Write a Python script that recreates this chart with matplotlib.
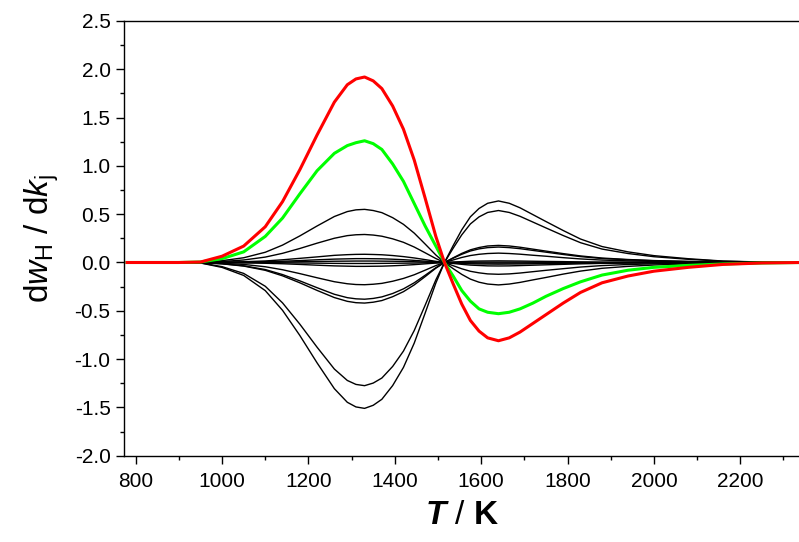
import matplotlib
matplotlib.use("Agg")
import matplotlib.pyplot as plt
from matplotlib.ticker import MultipleLocator

plt.rcParams["font.family"] = ["Liberation Sans", "DejaVu Sans"]
plt.rcParams["mathtext.fontset"] = "custom"
plt.rcParams["mathtext.rm"] = "Liberation Sans"
plt.rcParams["mathtext.it"] = "Liberation Sans:italic"
plt.rcParams["mathtext.bf"] = "Liberation Sans:bold"
plt.rcParams["mathtext.bfit"] = "Liberation Sans:italic:bold"

# temperature grid (K)
T = [780, 900, 950, 1000, 1050, 1100, 1140, 1180, 1220, 1260, 1290, 1310, 1330,
     1350, 1370, 1395, 1420, 1445, 1470, 1495, 1515, 1535, 1555, 1575, 1595,
     1615, 1640, 1665, 1690, 1720, 1750, 1790, 1830, 1880, 1940, 2000, 2080,
     2160, 2250, 2340]

# highlighted sensitivities
red = [0, 0, 0.005, 0.065, 0.17, 0.37, 0.63, 0.96, 1.32, 1.66, 1.84, 1.90, 1.92,
       1.88, 1.80, 1.62, 1.38, 1.06, 0.67, 0.27, 0, -0.22, -0.43, -0.60, -0.71,
       -0.78, -0.81, -0.78, -0.72, -0.63, -0.54, -0.42, -0.31, -0.21, -0.14, -0.09, -0.05,
       -0.02, -0.005, 0]
green = [0, 0, 0.005, 0.04, 0.11, 0.27, 0.46, 0.71, 0.95, 1.13, 1.21, 1.24, 1.26,
         1.23, 1.17, 1.02, 0.84, 0.61, 0.38, 0.17, 0, -0.14, -0.29, -0.40, -0.48,
         -0.515, -0.53, -0.515, -0.48, -0.42, -0.35, -0.27, -0.20, -0.13, -0.08, -0.05, -0.03,
         -0.015, -0.005, 0]

# remaining sensitivities (black)
k1 = [0, 0, 0.002, 0.019, 0.049, 0.106, 0.180, 0.275, 0.378, 0.476, 0.527, 0.545, 0.55,
      0.538, 0.516, 0.464, 0.395, 0.304, 0.192, 0.078, 0, -0.063, -0.123, -0.172, -0.204,
      -0.223, -0.232, -0.223, -0.206, -0.180, -0.155, -0.120, -0.089, -0.060, -0.040, -0.026, -0.014,
      -0.006, -0.002, 0]
k2 = [0, 0, 0.001, 0.010, 0.026, 0.056, 0.095, 0.145, 0.200, 0.251, 0.278, 0.287, 0.29,
      0.284, 0.272, 0.245, 0.209, 0.160, 0.101, 0.041, 0, -0.033, -0.065, -0.091, -0.107,
      -0.118, -0.122, -0.118, -0.109, -0.095, -0.081, -0.064, -0.047, -0.032, -0.021, -0.014, -0.008,
      -0.003, -0.001, 0]
k3 = [0, 0, 0, 0.003, 0.008, 0.016, 0.028, 0.043, 0.058, 0.074, 0.081, 0.084, 0.085,
      0.083, 0.080, 0.072, 0.061, 0.047, 0.030, 0.012, 0, -0.010, -0.019, -0.027, -0.031,
      -0.035, -0.036, -0.035, -0.032, -0.028, -0.024, -0.019, -0.014, -0.009, -0.006, -0.004, -0.002,
      -0.001, 0, 0]
k4 = [0, 0, 0, 0.001, 0.004, 0.008, 0.013, 0.020, 0.028, 0.035, 0.038, 0.040, 0.040,
      0.039, 0.038, 0.034, 0.029, 0.022, 0.014, 0.006, 0, -0.005, -0.009, -0.013, -0.015,
      -0.016, -0.017, -0.016, -0.015, -0.013, -0.011, -0.009, -0.006, -0.004, -0.003, -0.002, -0.001,
      0, 0, 0]
k5 = [0, 0, 0, 0.001, 0.001, 0.003, 0.005, 0.008, 0.010, 0.013, 0.014, 0.015, 0.015,
      0.015, 0.014, 0.013, 0.011, 0.008, 0.005, 0.002, 0, -0.002, -0.003, -0.005, -0.006,
      -0.006, -0.006, -0.006, -0.006, -0.005, -0.004, -0.003, -0.002, -0.002, -0.001, -0.001, 0,
      0, 0, 0]
k6 = [0, 0, 0, 0, -0.001, -0.002, -0.003, -0.005, -0.007, -0.009, -0.010, -0.010, -0.010,
      -0.010, -0.009, -0.008, -0.007, -0.006, -0.003, -0.001, 0, 0.001, 0.002, 0.003, 0.004,
      0.004, 0.004, 0.004, 0.004, 0.003, 0.003, 0.002, 0.002, 0.001, 0.001, 0, 0,
      0, 0, 0]
k7 = [0, 0, 0, -0.001, -0.004, -0.008, -0.013, -0.020, -0.028, -0.035, -0.038, -0.040, -0.040,
      -0.039, -0.038, -0.034, -0.029, -0.022, -0.014, -0.006, 0, 0.005, 0.009, 0.013, 0.015,
      0.016, 0.017, 0.016, 0.015, 0.013, 0.011, 0.009, 0.006, 0.004, 0.003, 0.002, 0.001,
      0, 0, 0]
k8 = [0, 0, -0.001, -0.008, -0.020, -0.044, -0.075, -0.115, -0.158, -0.199, -0.220, -0.228, -0.23,
      -0.225, -0.216, -0.194, -0.165, -0.127, -0.080, -0.032, 0, 0.026, 0.052, 0.072, 0.085,
      0.093, 0.097, 0.093, 0.086, 0.075, 0.065, 0.050, 0.037, 0.025, 0.017, 0.011, 0.006,
      0.002, 0.001, 0]
k9 = [0, 0, -0.001, -0.013, -0.034, -0.073, -0.125, -0.190, -0.261, -0.329, -0.364, -0.376, -0.38,
      -0.372, -0.356, -0.321, -0.273, -0.210, -0.133, -0.054, 0, 0.044, 0.085, 0.119, 0.141,
      0.154, 0.160, 0.154, 0.143, 0.125, 0.107, 0.083, 0.061, 0.041, 0.028, 0.018, 0.010,
      0.004, 0.001, 0]
k10 = [0, 0, -0.001, -0.014, -0.037, -0.081, -0.138, -0.210, -0.289, -0.363, -0.402, -0.416, -0.42,
       -0.411, -0.394, -0.354, -0.302, -0.232, -0.147, -0.059, 0, 0.048, 0.094, 0.131, 0.155,
       0.171, 0.177, 0.171, 0.158, 0.138, 0.118, 0.092, 0.068, 0.046, 0.031, 0.020, 0.011,
       0.004, 0.001, 0]
k11 = [0, 0, -0.004, -0.043, -0.113, -0.246, -0.418, -0.638, -0.877, -1.103, -1.221, -1.262, -1.275,
       -1.248, -1.196, -1.076, -0.917, -0.704, -0.445, -0.180, 0, 0.147, 0.286, 0.399, 0.472,
       0.518, 0.538, 0.518, 0.478, 0.418, 0.358, 0.279, 0.205, 0.139, 0.093, 0.060, 0.033,
       0.013, 0.004, 0]
k12 = [0, 0, -0.005, -0.051, -0.134, -0.291, -0.495, -0.755, -1.039, -1.306, -1.447, -1.495, -1.51,
       -1.478, -1.416, -1.274, -1.086, -0.834, -0.527, -0.213, 0, 0.174, 0.338, 0.473, 0.559,
       0.613, 0.637, 0.613, 0.566, 0.495, 0.424, 0.331, 0.243, 0.165, 0.110, 0.071, 0.039,
       0.015, 0.005, 0]

black = [k1, k2, k3, k4, k5, k6, k7, k8, k9, k10, k11, k12]

fig = plt.figure(figsize=(7.99, 5.42), dpi=100)
ax = fig.add_axes([0.1558, 0.1592, 1 - 0.1558, 0.8021])

for y in black:
    ax.plot(T, y, color="black", lw=1.0, solid_joinstyle="round")
ax.plot(T, green, color="#00ff00", lw=2.2, solid_joinstyle="round")
ax.plot(T, red, color="#ff0000", lw=2.2, solid_joinstyle="round")

ax.set_xlim(774, 2336)
ax.set_ylim(-2.0, 2.5)
ax.xaxis.set_major_locator(MultipleLocator(200))
ax.xaxis.set_minor_locator(MultipleLocator(100))
ax.yaxis.set_major_locator(MultipleLocator(0.5))
ax.yaxis.set_minor_locator(MultipleLocator(0.25))
ax.yaxis.set_major_formatter(plt.FormatStrFormatter("%.1f"))

ax.tick_params(which="both", direction="out", top=False, right=False, width=1.0,
               labelsize=15)
ax.tick_params(which="major", length=6)
ax.tick_params(which="minor", length=3.2)
ax.tick_params(axis="x", pad=6)
ax.tick_params(axis="y", pad=4)
ax.spines["right"].set_visible(False)
for s in ["left", "bottom", "top"]:
    ax.spines[s].set_linewidth(1.0)

ax.set_xlabel(r"$\mathbfit{T}$ / $\mathbf{K}$", fontsize=24, labelpad=6)
ax.set_ylabel(r"d$\mathit{w}_{\mathregular{H}}$ / d$\mathit{k}_{\mathregular{j}}$",
              fontsize=24, labelpad=10)

fig.savefig("out.png", dpi=100)
